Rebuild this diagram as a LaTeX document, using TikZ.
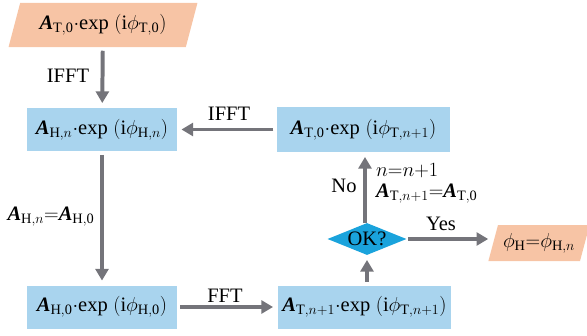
\documentclass[tikz,border=0pt]{standalone}
\usepackage{amsmath}
\usepackage{fontspec}
\setmainfont{Liberation Serif}
\usetikzlibrary{arrows.meta, shapes.geometric}
\definecolor{boxblue}{HTML}{A9D4EE}
\definecolor{salmon}{HTML}{F7C4A5}
\definecolor{okcyan}{HTML}{1AA3DC}
\definecolor{arrowgray}{HTML}{74747A}
\newcommand{\vA}{\textbf{\textit{A}}}

\tikzset{
  stage/.style={fill=boxblue, inner sep=0pt, minimum height=1.29cm},
  io/.style={trapezium, trapezium left angle=67, trapezium right angle=113,
    trapezium stretches=true, fill=salmon, inner sep=0pt},
  flow/.style={arrowgray, line width=3.4pt,
    -{Triangle[length=10pt,width=11pt]}, shorten >=4pt, shorten <=3pt},
}

\begin{document}
\begin{tikzpicture}[x=0.03cm, y=-0.03cm, font=\fontsize{17.5}{20}\selectfont]
  %% 1 unit = 1 px of the 587 x 336 layout, y runs downwards
  \useasboundingbox (0,0) rectangle (587,336);

  % Start and end (salmon parallelograms)
  \node[io, minimum width=5.67cm, minimum height=1.32cm] (src) at (103,25)
    {$\vA_{\mathrm{T,0}}{\cdot}\mathrm{exp}\;(\mathrm{i}\phi_{\mathrm{T,0}})$};
  \node[io, minimum width=3.06cm, minimum height=1.08cm] (res) at (539,243)
    {$\phi_{\mathrm{H}}{=}\phi_{\mathrm{H},n}$};

  % Blue stages
  \node[stage, minimum width=4.47cm] (hn) at (102,129.5)
    {$\vA_{\mathrm{H},n}{\cdot}\mathrm{exp}\;(\mathrm{i}\phi_{\mathrm{H},n})$};
  \node[stage, minimum width=5.19cm, minimum height=1.35cm] (t0) at (363.5,129.5)
    {$\vA_{\mathrm{T,0}}{\cdot}\mathrm{exp}\;(\mathrm{i}\phi_{\mathrm{T},n+1})$};
  \node[stage, minimum width=4.47cm] (h0) at (102,307)
    {$\vA_{\mathrm{H,0}}{\cdot}\mathrm{exp}\;(\mathrm{i}\phi_{\mathrm{H,0}})$};
  \node[stage, minimum width=5.19cm] (tn) at (364.5,307)
    {$\vA_{\mathrm{T},n+1}{\cdot}\mathrm{exp}\;(\mathrm{i}\phi_{\mathrm{T},n+1})$};

  % Check
  \node[diamond, fill=okcyan, inner sep=0pt, aspect=2.4,
    minimum width=2.37cm, minimum height=0.96cm] (ok) at (367,239) {OK?};

  % Connectors
  \draw[flow] (src) -- (hn);
  \draw[flow] (t0) -- (hn);
  \draw[flow] (hn) -- (h0);
  \draw[flow] (h0) -- (tn);
  \draw[flow] (tn.north -| ok) -- (ok.south);
  \draw[flow, shorten <=0pt] (ok.north -| 365,0) -- (t0.south -| 365,0);
  \draw[flow, shorten <=1pt] (ok.east) -- (res.west |- ok.east);

  % Labels
  \node (lifft) at (68,76) {IFFT};
  \node (tifft) at (229,114) {IFFT};
  \node (reset) at (51,217) {$\vA_{\mathrm{H},n}{=}\vA_{\mathrm{H,0}}$};
  \node (lfft) at (225,296) {FFT};
  \node (no) at (344,186) {No};
  \node[right] (incr) at (372,171) {$n{=}n{+}1$};
  \node[right] (keep) at (372,194) {$\vA_{\mathrm{T},n+1}{=}\vA_{\mathrm{T,0}}$};
  \node (yes) at (441,224) {Yes};
\end{tikzpicture}
\end{document}
